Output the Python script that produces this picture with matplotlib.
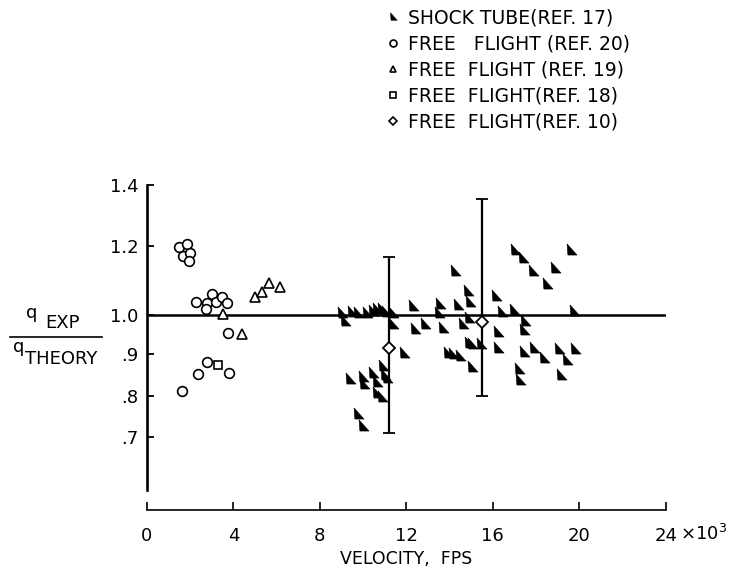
import numpy as np
import matplotlib
matplotlib.use('Agg')
import matplotlib.pyplot as plt
from matplotlib.path import Path
from matplotlib.lines import Line2D

# shock tube (ref. 17), velocity in 1000 fps
shock_v = [9.0, 9.17, 9.48, 9.74, 10.17, 10.45, 10.63, 10.87, 11.06, 11.40, 11.40, 12.33, 12.41,
           12.87, 13.56, 13.49, 13.70, 14.26, 14.83, 14.95, 14.41, 14.62, 14.88, 16.16, 16.42,
           17.00, 17.04, 17.42, 17.88, 18.89, 19.62, 18.50, 19.74, 17.47, 16.23, 17.45, 16.23,
           17.45, 17.92, 18.35, 19.06, 19.81, 19.43, 17.19, 17.24, 19.15, 14.88, 15.03, 15.46,
           11.87, 13.95, 14.18, 14.49, 15.03, 10.94, 11.02, 11.10, 10.48, 9.99, 9.37, 10.05,
           10.63, 10.63, 10.87, 9.78, 10.01]
shock_q = [1.01, 0.987, 1.012, 1.010, 1.010, 1.014, 1.019, 1.019, 1.012, 1.010, 0.979, 1.029, 0.966,
           0.979, 1.034, 1.010, 0.970, 1.130, 1.072, 1.041, 1.032, 0.979, 0.996, 1.057, 1.012,
           1.017, 1.190, 1.167, 1.130, 1.140, 1.190, 1.094, 1.014, 0.987, 0.960, 0.964, 0.919,
           0.909, 0.919, 0.894, 0.915, 0.915, 0.888, 0.868, 0.840, 0.852, 0.932, 0.930, 0.930,
           0.905, 0.905, 0.904, 0.898, 0.872, 0.874, 0.852, 0.846, 0.858, 0.848, 0.842, 0.830,
           0.836, 0.810, 0.800, 0.759, 0.729]

# free flight (ref. 20)
circ_v = [1.48, 1.87, 1.65, 1.99, 1.96, 1.63, 2.27, 2.79, 3.02, 3.19, 3.46, 3.69, 2.73, 3.76, 2.35, 2.76, 3.81]
circ_q = [1.196, 1.207, 1.171, 1.179, 1.157, 0.812, 1.037, 1.036, 1.061, 1.038, 1.051, 1.036, 1.017,
          0.953, 0.852, 0.881, 0.854]

# free flight (ref. 19)
tri_v = [3.53, 4.41, 5.00, 5.34, 5.66, 6.16]
tri_q = [1.003, 0.951, 1.053, 1.068, 1.092, 1.082]

# free flight (ref. 18)
sq_v = [3.27]
sq_q = [0.874]

# free flight (ref. 10) with range bars
dia_v = [11.2, 15.48]
dia_q = [0.917, 0.983]
dia_lo = [0.708, 0.80]
dia_hi = [1.169, 1.353]

xticks = [0, 4, 8, 12, 16, 20, 24]
xticklabels = ['0', '4', '8', '12', '16', '20', '24']
yticks = [0.7, 0.8, 0.9, 1.0, 1.2, 1.4]
yticklabels = ['.7', '.8', '.9', '1.0', '1.2', '1.4']

labels = ['SHOCK TUBE(REF. 17)', 'FREE   FLIGHT (REF. 20)', 'FREE  FLIGHT (REF. 19)',
          'FREE  FLIGHT(REF. 18)', 'FREE  FLIGHT(REF. 10)']

# the original y axis is not uniform: spacing of the drawn ticks
scale_vals = np.array([0.5, 0.7, 0.8, 0.9, 1.0, 1.2, 1.4, 1.6])
scale_pos = -np.array([518.7, 436.7, 395.7, 354.3, 315.0, 246.0, 185.0, 124.0])


def fwd(v):
    return np.interp(v, scale_vals, scale_pos)


def inv(p):
    return np.interp(p, scale_pos, scale_vals)


plt.rcParams['font.family'] = 'DejaVu Sans'

wedge = Path([(-0.8, 1.0), (-0.65, -1.0), (1.0, -1.0), (-0.8, 1.0)],
             [Path.MOVETO, Path.LINETO, Path.LINETO, Path.CLOSEPOLY])

fig = plt.figure(figsize=(7.36, 5.79), dpi=100)
ax = fig.add_axes([147 / 736, 1 - 510 / 579, 518.7 / 736, 325 / 579])
ax.set_yscale('function', functions=(fwd, inv))
ax.set_xlim(0, 24)
ax.set_ylim(0.5212, 1.4)

ax.axhline(1.0, color='k', lw=1.8, zorder=2)

ax.plot(shock_v, shock_q, ls='none', marker=wedge, ms=8, color='k', mew=0.4, zorder=3)
ax.plot(circ_v, circ_q, ls='none', marker='o', ms=7, mfc='white', mec='k', mew=1.2, zorder=3)
ax.plot(tri_v, tri_q, ls='none', marker='^', ms=7, mfc='white', mec='k', mew=1.2, zorder=3)
ax.plot(sq_v, sq_q, ls='none', marker='s', ms=5.5, mfc='white', mec='k', mew=1.2, zorder=3)
yerr = [np.array(dia_q) - np.array(dia_lo), np.array(dia_hi) - np.array(dia_q)]
ax.errorbar(dia_v, dia_q, yerr=yerr, fmt='D', ms=6, mfc='white', mec='k', mew=1.3,
            ecolor='k', elinewidth=1.6, capsize=4, capthick=1.6, zorder=4)

ax.spines['top'].set_visible(False)
ax.spines['right'].set_visible(False)
ax.spines['left'].set_linewidth(1.9)
ax.spines['left'].set_bounds(0.57, 1.4)
ax.spines['bottom'].set_linewidth(1.2)

ax.set_xticks(xticks)
ax.set_xticklabels(xticklabels)
ax.set_yticks(yticks)
ax.set_yticklabels(yticklabels)
ax.minorticks_off()
ax.tick_params(axis='x', direction='in', length=6, width=1.2, pad=12, labelsize=13)
ax.tick_params(axis='y', direction='in', length=5, width=1.3, pad=6, labelsize=13)

ax.annotate('×10$^{3}$', xy=(24, 0), xycoords=('data', 'axes fraction'),
            xytext=(10, -21.6), textcoords='offset points', ha='left', va='baseline', fontsize=13)
ax.set_xlabel('VELOCITY,  FPS', fontsize=12.5, labelpad=4)

# stacked ratio label on the left
fig.text(26 / 736, 1 - 318 / 579, 'q', fontsize=13, va='baseline')
fig.text(45 / 736, 1 - 328 / 579, 'EXP', fontsize=13, va='baseline')
fig.add_artist(Line2D([10 / 736, 101.7 / 736], [1 - 336.7 / 579] * 2, color='k', lw=1.2,
                      transform=fig.transFigure))
fig.text(13.3 / 736, 1 - 352 / 579, 'q', fontsize=13, va='baseline')
fig.text(25 / 736, 1 - 364 / 579, 'THEORY', fontsize=13, va='baseline')

handles = [
    Line2D([], [], ls='none', marker=wedge, ms=5.5, color='k', mew=0.3),
    Line2D([], [], ls='none', marker='o', ms=5, mfc='white', mec='k', mew=1.2),
    Line2D([], [], ls='none', marker='^', ms=5, mfc='white', mec='k', mew=1.2),
    Line2D([], [], ls='none', marker='s', ms=4.5, mfc='white', mec='k', mew=1.2),
    Line2D([], [], ls='none', marker='D', ms=4.5, mfc='white', mec='k', mew=1.2),
]
fig.legend(handles, labels, loc='upper left', bbox_to_anchor=(385 / 736, 1 - 8 / 579),
           frameon=False, fontsize=13.5, handlelength=0.8, handletextpad=0.45,
           labelspacing=0.38, borderpad=0, borderaxespad=0)

fig.savefig('out.png', dpi=100)
